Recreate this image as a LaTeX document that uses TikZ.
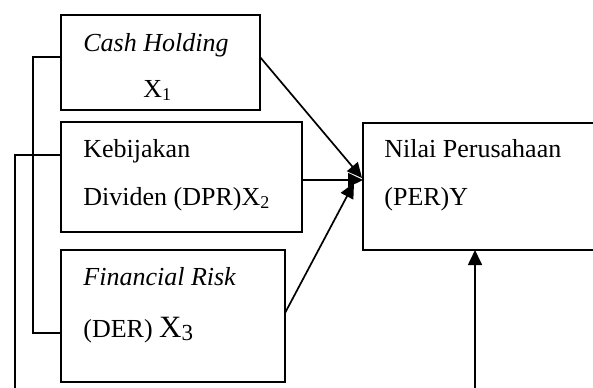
\documentclass[tikz,border=0pt]{standalone}
\usepackage{fontspec}
\setmainfont{Liberation Serif}
\usetikzlibrary{arrows.meta,calc}
\begin{document}
\begin{tikzpicture}[x=0.5pt,y=-0.5pt,
  box/.style={draw,line width=1pt,inner sep=0pt,outer sep=0pt,anchor=north west},
  txt/.style={anchor=base west,inner sep=0pt,font=\fontsize{13}{15}\selectfont},
  conn/.style={line width=0.85pt},
  arr/.style={line width=0.85pt,-{Triangle[length=7.5pt,width=7pt]}}]
\useasboundingbox (0,0) rectangle (593,387);
\clip (0,0) rectangle (593,387);
% boxes
\node[box,minimum width=99.5pt,minimum height=47.5pt] (b1) at (61,15) {};
\node[box,minimum width=120.5pt,minimum height=55pt] (b2) at (61,122) {};
\node[box,minimum width=112pt,minimum height=66pt] (b3) at (61,250) {};
\node[box,minimum width=125pt,minimum height=63.5pt] (by) at (363,123) {};
% texts
\node[txt] (t1) at (83,51) {\itshape Cash Holding};
\node[txt] (t1b) at (143,97) {X{\fontsize{9}{10}\selectfont\raisebox{-1.5pt}{1}}};
\node[txt] (t2) at (83,157) {Kebijakan};
\node[txt] (t2b) at (83,205) {Dividen (DPR)X{\fontsize{9}{10}\selectfont\raisebox{-1.5pt}{2}}};
\node[txt] (t3) at (83,285) {\itshape Financial Risk};
\node[txt] (t3b) at (83,337) {(DER) {\fontsize{15.5}{17}\selectfont X{\fontsize{11.5}{12}\selectfont\raisebox{-1.5pt}{3}}}};
\node[txt] (ty) at (384,157) {Nilai Perusahaan};
\node[txt] (tyb) at (384,205) {(PER)Y};
% coordinates
\coordinate (c1) at ($(b1.east)+(0,-5.5)$);
\coordinate (c3) at ($(b3.east)+(0,-3)$);
\coordinate (ya) at (362,178);
\coordinate (yb) at (363,180);
\coordinate (yc) at (354,183);
\coordinate (l1) at (33,57);
\coordinate (l3) at (33,333);
\coordinate (l2) at (15,155);
\coordinate (l2b) at (15,400);
\coordinate (yd) at (475,400);
% arrows to Y
\draw[arr] (c1) -- (ya);
\draw[arr] (b2.east |- yb) -- (yb);
\draw[arr] (c3) -- (yc);
\draw[arr] (yd) -- (by.south -| yd);
% left connectors
\draw[conn] (b1.west |- l1) -- (l1) -- (l3) -- (b3.west |- l3);
\draw[conn] (b2.west |- l2) -- (l2) -- (l2b);
\end{tikzpicture}
\end{document}
